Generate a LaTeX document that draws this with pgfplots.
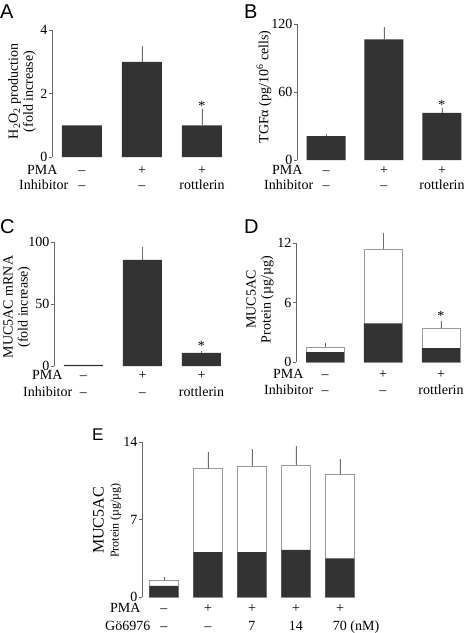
\documentclass[border=0pt]{standalone}
\usepackage{pgfplots}
\pgfplotsset{compat=1.18}
\usepackage{fontspec}
\setmainfont{Liberation Serif}
\newfontfamily\panelfont{Liberation Sans}
\definecolor{bardark}{HTML}{333333}
\definecolor{axgray}{HTML}{666666}
\definecolor{errgray}{HTML}{6E6E6E}
\definecolor{opengray}{HTML}{9A9A9A}

\newcommand{\lblfont}{\fontsize{14}{15}\selectfont}
\newcommand{\rowtxt}[3]{\node[anchor=base, inner sep=0pt, yshift=-#2, font=\lblfont] at (axis cs:#1,0) {#3};}
\newcommand{\headtxt}[3]{\node[anchor=base west, inner sep=0pt, xshift=#1, yshift=-#2, font=\lblfont] at (rel axis cs:0,0) {#3};}

\pgfplotsset{
  panel/.style={
    scale only axis, clip=false,
    axis x line=none, axis y line*=left,
    y axis line style={axgray, line width=0.8pt, -},
    ytick style={axgray, line width=0.8pt},
    tick align=outside, major tick length=3pt,
    yticklabel style={font=\lblfont, inner sep=1.5pt},
    /pgf/number format/assume math mode=true,
    xmin=-0.5, ymin=0,
    ybar,
    every axis y label/.style={rotate=90, anchor=center, align=center, font=\lblfont},
  },
  darkbar/.style={fill=bardark, draw=none, bar shift=0pt},
  openbar/.style={fill=white, draw=opengray, line width=0.8pt, bar shift=0pt},
  errs/.style={error bars/.cd, y dir=plus, y explicit, error mark=none,
    error bar style={errgray, line width=0.8pt}},
}

\begin{document}
\begin{tikzpicture}
\path[use as bounding box] (0pt,0pt) rectangle (464pt,-633pt);

% Panel A
\begin{axis}[panel, at={(52pt,-157pt)}, anchor=south west,
  width=180pt, height=127pt, xmax=2.5, ymax=4, ytick={0,2,4}, bar width=40pt,
  ylabel={H\textsubscript{2}O\textsubscript{2} production\\(fold increase)},
  ylabel style={at={([xshift=-30pt,yshift=2pt]rel axis cs:0,0.5)}}]
\addplot[darkbar, errs] coordinates {(0,1) +- (0,0) (1,3) +- (0,0.5) (2,1) +- (0,0.5)};
\node[font=\lblfont, anchor=center] at (axis cs:2,1.5) [yshift=3pt] {*};
\headtxt{-25pt}{17pt}{PMA}
\headtxt{-33pt}{32pt}{Inhibitor}
\rowtxt{0}{17pt}{–}\rowtxt{1}{17pt}{+}\rowtxt{2}{17pt}{+}
\rowtxt{0}{32pt}{–}\rowtxt{1}{32pt}{–}\rowtxt{2}{32pt}{rottlerin}
\end{axis}

% Panel B
\begin{axis}[panel, at={(297pt,-160pt)}, anchor=south west,
  width=174pt, height=136pt, xmax=2.5, ymax=120, ytick={0,60,120}, bar width=39pt,
  ylabel={TGFα (pg/10\textsuperscript{6} cells)},
  ylabel style={at={([xshift=-33pt,yshift=5pt]rel axis cs:0,0.5)}}]
\addplot[darkbar, errs] coordinates {(0,21) +- (0,2) (1,106.5) +- (0,10.5) (2,41.5) +- (0,4.5)};
\node[font=\lblfont, anchor=center] at (axis cs:2,46) [yshift=3pt] {*};
\headtxt{-25pt}{14pt}{PMA}
\headtxt{-33pt}{29pt}{Inhibitor}
\rowtxt{0}{14pt}{–}\rowtxt{1}{14pt}{+}\rowtxt{2}{14pt}{+}
\rowtxt{0}{29pt}{–}\rowtxt{1}{29pt}{–}\rowtxt{2}{29pt}{rottlerin}
\end{axis}

% Panel C
\begin{axis}[panel, at={(54pt,-366pt)}, anchor=south west,
  width=177pt, height=124pt, xmax=2.5, ymax=100, ytick={0,50,100}, bar width=39pt,
  ylabel={MUC5AC mRNA\\(fold increase)},
  ylabel style={at={([xshift=-37pt,yshift=-3pt]rel axis cs:0,0.5)}}]
\addplot[darkbar, errs] coordinates {(0,1) +- (0,0) (1,85.5) +- (0,10.5) (2,10.5) +- (0,1.5)};
\node[font=\lblfont, anchor=center] at (axis cs:2,12) [yshift=5pt] {*};
\headtxt{-22pt}{13pt}{PMA}
\headtxt{-31pt}{30pt}{Inhibitor}
\rowtxt{0}{13pt}{–}\rowtxt{1}{13pt}{+}\rowtxt{2}{13pt}{+}
\rowtxt{0}{30pt}{–}\rowtxt{1}{30pt}{–}\rowtxt{2}{30pt}{rottlerin}
\end{axis}

% Panel D
\begin{axis}[panel, at={(296pt,-362pt)}, anchor=south west,
  width=174pt, height=119pt, xmax=2.5, ymax=12, ytick={0,6,12}, bar width=38pt,
  ylabel={MUC5AC\\Protein (µg/µg)},
  ylabel style={at={([xshift=-36pt,yshift=3pt]rel axis cs:0,0.5)}}]
\addplot[openbar, errs] coordinates {(0,1.5) +- (0,0.4) (1,11.4) +- (0,1.6) (2,3.4) +- (0,0.7)};
\addplot[darkbar] coordinates {(0,1) (1,3.9) (2,1.4)};
\node[font=\lblfont, anchor=center] at (axis cs:2,4.1) [yshift=5pt] {*};
\headtxt{-23pt}{16pt}{PMA}
\headtxt{-32pt}{32pt}{Inhibitor}
\rowtxt{0}{16pt}{–}\rowtxt{1}{16pt}{+}\rowtxt{2}{16pt}{+}
\rowtxt{0}{32pt}{–}\rowtxt{1}{32pt}{–}\rowtxt{2}{32pt}{rottlerin}
\end{axis}

% Panel E
\begin{axis}[panel, at={(142pt,-597pt)}, anchor=south west,
  width=220pt, height=155pt, xmax=4.5, ymax=14, ytick={0,7,14}, bar width=29pt,
  ylabel={{\fontsize{16}{17}\selectfont MUC5AC}\\{\fontsize{12}{13}\selectfont Protein (µg/µg)}},
  ylabel style={at={([xshift=-35pt,yshift=-1pt]rel axis cs:0,0.5)}}]
\addplot[openbar, errs] coordinates {(0,1.5) +- (0,0.3) (1,11.6) +- (0,1.5) (2,11.8) +- (0,1.6) (3,11.9) +- (0,1.7) (4,11.1) +- (0,1.4)};
\addplot[darkbar] coordinates {(0,1.0) (1,4.05) (2,4.05) (3,4.25) (4,3.5)};
\headtxt{-32pt}{15pt}{PMA}
\headtxt{-37pt}{33pt}{Gö6976}
\rowtxt{0}{15pt}{–}\rowtxt{1}{15pt}{+}\rowtxt{2}{15pt}{+}\rowtxt{3}{15pt}{+}\rowtxt{4}{15pt}{+}
\rowtxt{0}{33pt}{–}\rowtxt{1}{33pt}{–}\rowtxt{2}{33pt}{7}\rowtxt{3}{33pt}{14}\rowtxt{4}{33pt}{70\rlap{ (nM)}}
\end{axis}

% Panel letters
\node[anchor=base west, inner sep=0pt, font=\panelfont\fontsize{20}{20}\selectfont] at (0pt,-18pt) {A};
\node[anchor=base west, inner sep=0pt, font=\panelfont\fontsize{20}{20}\selectfont] at (244pt,-18pt) {B};
\node[anchor=base west, inner sep=0pt, font=\panelfont\fontsize{20}{20}\selectfont] at (0pt,-233pt) {C};
\node[anchor=base west, inner sep=0pt, font=\panelfont\fontsize{20}{20}\selectfont] at (244pt,-233pt) {D};
\node[anchor=base west, inner sep=0pt, font=\panelfont\fontsize{17}{17}\selectfont] at (92pt,-440pt) {E};
\end{tikzpicture}
\end{document}
